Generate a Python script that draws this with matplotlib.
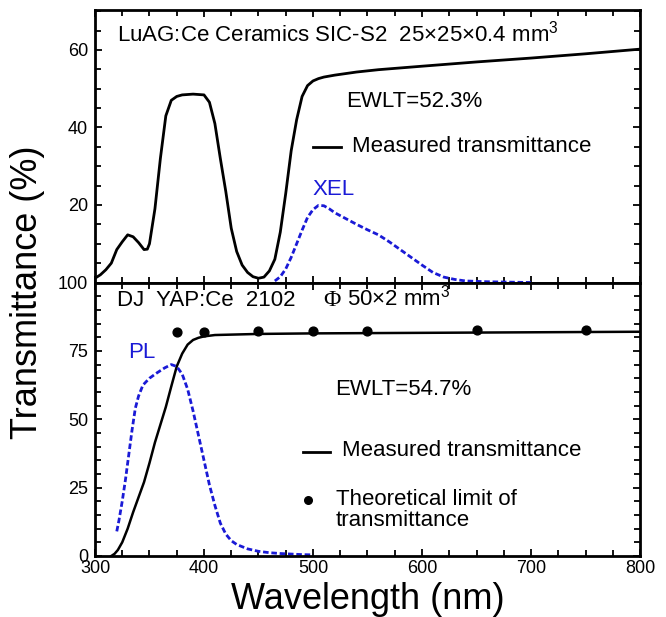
import matplotlib.pyplot as plt
from matplotlib.ticker import MultipleLocator

plt.rcParams['font.family'] = ['Liberation Sans', 'DejaVu Sans']
plt.rcParams['mathtext.fontset'] = 'custom'
plt.rcParams['mathtext.rm'] = 'Liberation Sans'

# LuAG:Ce ceramics, measured transmittance (top panel)
luag_wl = [300, 305, 310, 315, 320, 325, 330, 335, 340, 345, 348, 350, 355, 360, 365, 370, 375, 380,
           390, 400, 405, 410, 415, 420, 425, 430, 435, 440, 445, 450, 455, 460, 465, 470, 475, 480,
           485, 490, 495, 500, 505, 510, 520, 540, 560, 600, 650, 700, 750, 800]
luag_t = [1.1, 2.0, 3.3, 5.0, 8.5, 10.5, 12.3, 11.8, 10.3, 8.5, 8.6, 10.0, 19.0, 32.0, 43.0, 47.0, 48.0, 48.4,
          48.6, 48.4, 46.5, 41.0, 32.0, 23.5, 14.0, 8.0, 4.5, 2.6, 1.5, 1.1, 1.4, 3.0, 6.0, 13.0, 23.0, 34.0,
          42.0, 48.0, 50.8, 52.0, 52.6, 53.0, 53.5, 54.3, 54.9, 55.8, 56.9, 57.9, 59.0, 60.2]

# LuAG:Ce XEL spectrum
xel_wl = [465, 470, 475, 480, 485, 490, 495, 500, 505, 510, 515, 520, 530, 540, 550, 560, 570, 580,
          590, 600, 610, 620, 630, 640, 660, 680, 700]
xel_v = [0.4, 1.5, 3.5, 6.5, 10.0, 13.5, 16.8, 18.8, 19.9, 19.8, 19.0, 18.0, 16.5, 15.0, 13.6, 12.3, 10.5, 8.5,
         6.5, 4.5, 2.6, 1.4, 0.8, 0.4, 0.2, 0.1, 0.0]

# YAP:Ce measured transmittance (bottom panel)
yap_wl = [315, 318, 321, 325, 330, 335, 340, 345, 350, 355, 360, 365, 370, 375, 380, 385, 390, 395,
          400, 410, 450, 500, 550, 600, 650, 700, 750, 800]
yap_t = [0.0, 0.8, 2.2, 5.0, 10.0, 16.0, 21.5, 27.0, 34.0, 41.5, 48.0, 54.5, 62.0, 69.3, 74.0, 77.3, 79.0, 79.8,
         80.3, 80.8, 81.2, 81.4, 81.5, 81.6, 81.7, 81.8, 81.9, 82.0]

# YAP:Ce PL spectrum
pl_wl = [320, 322, 325, 328, 331, 334, 337, 340, 344, 350, 357, 364, 370, 375, 380, 385, 390, 395,
         400, 405, 410, 415, 420, 425, 430, 440, 450, 460, 470, 480, 490, 500]
pl_v = [9.0, 13.0, 20.0, 28.0, 37.0, 46.0, 54.0, 58.5, 62.5, 65.0, 67.0, 68.8, 70.0, 69.3, 66.5, 61.0, 53.0, 44.0,
        35.0, 26.0, 18.5, 12.0, 8.0, 5.6, 4.2, 2.6, 1.7, 1.2, 0.9, 0.7, 0.5, 0.4]

# theoretical limit
lim_wl = [375, 400, 450, 500, 550, 650, 750]
lim_t = [82.0, 81.9, 82.1, 82.2, 82.2, 82.6, 82.7]

blue = '#1a1ad6'
fs = 16

fig = plt.figure(figsize=(6.66, 6.17), dpi=100)
ax1 = fig.add_axes([0.1426, 0.5421, 0.8184, 0.4417])
ax2 = fig.add_axes([0.1426, 0.0989, 0.8184, 0.4432])

ax1.plot(luag_wl, luag_t, color='black', lw=2)
ax1.plot(xel_wl, xel_v, color=blue, lw=2, linestyle=(0, (2, 1)))
ax1.set_ylim(0, 70.3)
ax1.set_yticks([20, 40, 60])

ax2.plot(yap_wl, yap_t, color='black', lw=1.8)
ax2.plot(pl_wl, pl_v, color=blue, lw=2, linestyle=(0, (2, 1)))
ax2.scatter(lim_wl, lim_t, color='black', s=40, zorder=3)
ax2.set_ylim(0, 100)
ax2.set_yticks([0, 25, 50, 75, 100])

for ax in (ax1, ax2):
    ax.set_xlim(300, 800)
    ax.xaxis.set_major_locator(MultipleLocator(100))
    ax.xaxis.set_minor_locator(MultipleLocator(25))
    ax.yaxis.set_minor_locator(MultipleLocator(5))
    ax.tick_params(which='both', direction='in', top=True, right=True, width=1.3, labelsize=13)
    ax.tick_params(which='major', length=5)
    ax.tick_params(which='minor', length=4)
    ax.tick_params(axis='y', pad=5)
    ax.tick_params(axis='x', pad=3)
    for s in ax.spines.values():
        s.set_linewidth(2)
ax1.tick_params(labelbottom=False)

# top panel texts
ax1.text(0.04, 0.885, 'LuAG:Ce Ceramics SIC-S2  25\u00d725\u00d70.4 mm$^{3}$', transform=ax1.transAxes,
         fontsize=16, va='baseline')
ax1.text(0.46, 0.665, 'EWLT=52.3%', transform=ax1.transAxes, fontsize=fs, va='center')
ax1.plot([0.3996, 0.4507], [0.497, 0.497], transform=ax1.transAxes, color='black', lw=2)
ax1.text(0.471, 0.50, 'Measured transmittance', transform=ax1.transAxes, fontsize=fs, va='center')
ax1.text(0.4, 0.34, 'XEL', transform=ax1.transAxes, fontsize=fs, va='center', color=blue)

# bottom panel texts
ax2.text(0.04, 0.915, 'DJ  YAP:Ce  2102', transform=ax2.transAxes, fontsize=16, va='baseline')
ax2.text(0.418, 0.915, '\u03a6', transform=ax2.transAxes, fontsize=17, va='baseline', family='Liberation Serif')
ax2.text(0.462, 0.915, '50\u00d72 mm$^{3}$', transform=ax2.transAxes, fontsize=16, va='baseline')
ax2.text(0.06, 0.745, 'PL', transform=ax2.transAxes, fontsize=fs, va='center', color=blue)
ax2.text(0.44, 0.61, 'EWLT=54.7%', transform=ax2.transAxes, fontsize=fs, va='center')
ax2.plot([0.382, 0.431], [0.38, 0.38], transform=ax2.transAxes, color='black', lw=2)
ax2.text(0.453, 0.385, 'Measured transmittance', transform=ax2.transAxes, fontsize=fs, va='center')
ax2.scatter([0.39], [0.205], transform=ax2.transAxes, color='black', s=30)
ax2.text(0.442, 0.168, 'Theoretical limit of\ntransmittance', transform=ax2.transAxes, fontsize=fs,
         va='center', linespacing=0.95)

fig.text(0.042, 0.527, 'Transmittance (%)', rotation=90, fontsize=26, ha='center', va='center')
fig.text(0.5518, 0.013, 'Wavelength (nm)', fontsize=26, ha='center', va='baseline')

fig.savefig('out.png', dpi=100)
